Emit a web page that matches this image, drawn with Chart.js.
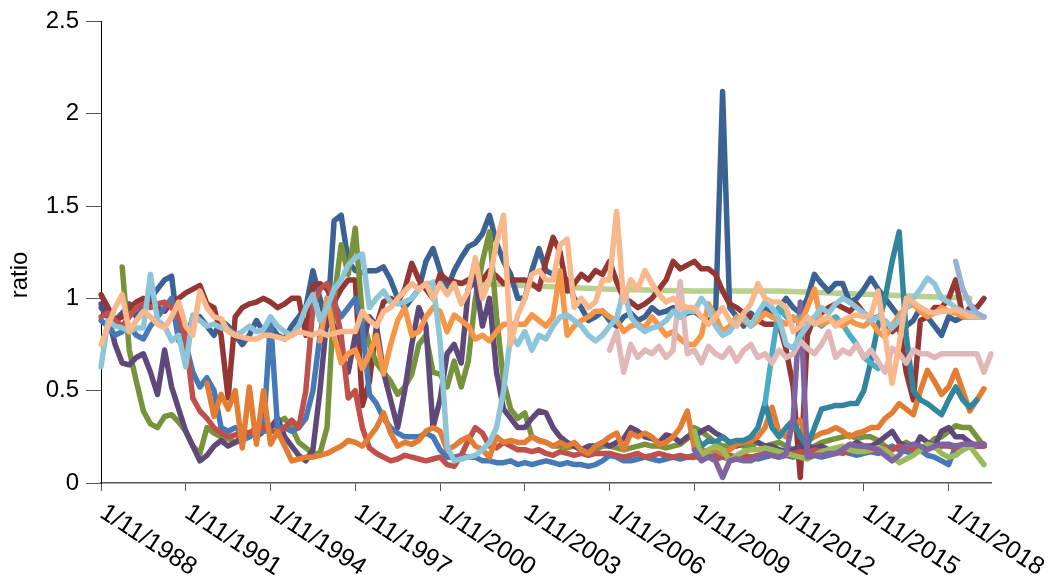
<!DOCTYPE html>
<html>
<head>
<meta charset="utf-8">
<script src="https://cdn.jsdelivr.net/npm/chart.js@4.4.1/dist/chart.umd.min.js"></script>
<style>
  html, body { margin: 0; padding: 0; background: #fff; }
  #wrap { width: 1051px; height: 584px; }
</style>
</head>
<body>
<div id="wrap"><canvas id="chart" width="1051" height="584"></canvas></div>
<script>
const n = null;

// quarterly categories, 1/11/1988 onwards
const categories = [];
for (let i = 0; i < 127; i++) {
  const m = 10 + 3 * i;
  const yr = 1988 + Math.floor(m / 12);
  const mo = (m % 12) + 1;
  categories.push('1/' + String(mo).padStart(2, '0') + '/' + yr);
}
const tickLabels = ['1/11/1988', '1/11/1991', '1/11/1994', '1/11/1997', '1/11/2000', '1/11/2003',
  '1/11/2006', '1/11/2009', '1/11/2012', '1/11/2015', '1/11/2018'];
const yTicks = [0, 0.5, 1, 1.5, 2, 2.5];

const navy = [0.95,0.9,0.88,0.92,0.97,0.9,0.95,1.0,1.05,1.1,1.12,0.8,
  0.75,0.9,0.9,0.85,0.8,0.88,0.85,0.8,0.75,0.8,0.88,0.82,
  0.85,0.8,0.78,0.85,0.9,0.95,1.15,1.0,0.85,1.42,1.45,1.2,
  1.15,1.14,1.15,1.15,1.17,1.1,1.0,0.95,1.0,1.05,1.2,1.27,
  1.15,1.05,1.15,1.22,1.28,1.3,1.35,1.45,1.3,1.2,1.13,1.0,
  1.0,1.15,1.27,1.15,1.13,1.13,1.1,1.0,0.95,0.88,0.9,0.93,
  0.88,0.85,0.9,0.92,0.88,0.9,0.95,0.92,0.93,0.95,0.9,0.92,
  0.93,0.9,0.88,0.9,2.12,0.95,0.9,0.85,0.92,0.88,0.95,0.9,
  0.95,1.0,0.95,0.92,1.0,1.13,1.08,1.04,1.08,1.08,0.98,1.0,
  1.05,1.11,1.05,1.0,0.95,0.9,0.85,0.88,0.95,0.9,0.85,0.8,
  0.9,0.88,0.9,0.9,0.9,0.9,n];

const maroon = [1.02,0.95,0.88,0.9,0.95,0.98,1.0,0.97,0.95,0.93,0.98,1.0,
  1.03,1.05,1.07,0.97,0.95,0.8,0.46,0.9,0.95,0.97,0.98,1.0,
  0.98,0.95,0.97,1.0,1.0,0.8,1.07,1.08,1.05,0.98,1.05,1.1,
  1.1,0.42,0.55,0.85,0.98,1.0,0.98,1.05,1.19,1.1,1.05,1.0,
  1.13,1.1,1.09,1.08,1.1,1.12,1.1,1.15,1.12,1.08,1.1,1.1,
  1.1,1.08,1.05,1.2,1.33,1.25,1.04,1.08,1.13,1.1,1.15,1.13,
  1.2,1.09,1.0,0.98,0.95,0.97,1.0,1.05,1.1,1.2,1.16,1.18,
  1.2,1.16,1.16,1.13,1.04,0.97,0.95,0.92,0.9,0.88,0.86,0.86,
  0.86,0.72,0.52,0.03,0.8,0.9,0.92,0.95,0.97,0.95,0.93,0.97,
  0.92,0.89,0.9,0.85,0.82,0.85,0.6,0.45,0.88,0.9,0.95,0.95,
  1.0,1.1,0.9,0.95,0.95,1.0,n];

const olive = [n,n,n,1.17,0.72,0.55,0.39,0.32,0.3,0.36,0.37,0.33,
  0.28,0.2,0.16,0.3,0.27,0.25,0.24,0.22,0.23,0.25,0.28,0.28,
  0.3,0.33,0.35,0.3,0.22,0.19,0.16,0.16,0.3,1.0,1.29,1.13,
  1.38,0.9,0.75,0.65,0.6,0.55,0.48,0.52,0.59,0.75,0.8,0.6,
  0.59,0.52,0.66,0.52,0.66,1.0,1.2,1.36,0.9,0.55,0.4,0.35,
  0.38,0.25,0.23,0.22,0.2,0.2,0.19,0.2,0.18,0.17,0.18,0.2,
  0.2,0.19,0.18,0.19,0.2,0.21,0.2,0.2,0.19,0.2,0.21,0.24,
  0.3,0.28,0.25,0.22,0.2,0.2,0.21,0.2,0.2,0.22,0.2,0.21,
  0.22,0.2,0.18,0.15,0.18,0.2,0.22,0.23,0.24,0.25,0.26,0.24,
  0.25,0.25,0.23,0.2,0.18,0.2,0.22,0.2,0.18,0.2,0.24,0.25,
  0.28,0.31,0.3,0.3,0.25,0.2,n];

const purple = [0.97,0.9,0.75,0.65,0.64,0.68,0.7,0.6,0.48,0.72,0.52,0.4,
  0.28,0.2,0.12,0.15,0.2,0.23,0.2,0.22,0.25,0.27,0.25,0.28,
  0.3,0.35,0.25,0.2,0.15,0.12,0.18,0.5,0.9,0.85,0.7,0.6,
  0.8,0.75,0.9,0.85,0.6,0.45,0.3,0.5,0.75,0.95,0.85,0.3,
  0.45,0.7,0.75,0.65,1.05,1.1,0.85,1.0,0.6,0.4,0.35,0.3,
  0.3,0.35,0.39,0.38,0.3,0.25,0.22,0.2,0.18,0.2,0.2,0.22,
  0.2,0.22,0.24,0.3,0.28,0.25,0.24,0.22,0.26,0.25,0.22,0.25,
  0.25,0.28,0.3,0.27,0.25,0.22,0.2,0.22,0.25,0.22,0.2,0.2,
  0.18,0.17,0.18,0.2,0.2,0.19,0.2,0.18,0.17,0.18,0.2,0.22,
  0.2,0.2,0.22,0.25,0.28,0.22,0.2,0.18,0.25,0.22,0.2,0.28,
  0.3,0.25,0.25,0.22,0.2,0.21,n];

const teal = [n,n,n,n,n,n,n,n,n,n,n,n, n,n,n,n,n,n,n,n,n,n,n,n,
  n,n,n,n,n,n,n,n,n,n,n,n, n,n,n,n,n,n,n,n,n,n,n,n,
  n,n,n,n,n,n,n,n,n,n,n,n, n,n,n,n,n,n,n,n,n,n,n,n,
  n,n,n,n,n,n,n,n,n,n,n,n,
  0.28,0.2,0.23,0.22,0.25,0.22,0.23,0.23,0.25,0.3,0.43,0.3,
  0.25,0.3,0.34,0.25,0.2,0.3,0.4,0.41,0.42,0.42,0.43,0.43,
  0.5,0.66,0.85,1.0,1.2,1.36,0.8,0.5,0.45,0.43,0.4,0.37,
  0.45,0.52,0.45,0.41,0.45,n,n];

const cyan = [n,n,n,n,n,n,n,n,n,n,n,n, n,n,n,n,n,n,n,n,n,n,n,n,
  n,n,n,n,n,n,n,n,n,n,n,n, n,n,n,n,n,n,n,n,n,n,n,n,
  n,n,n,n,n,n,n,n,n,n,n,n, n,n,n,n,n,n,n,n,n,n,n,n,
  n,n,n,n,n,n,n,n,n,n,n,n,
  n,n,n,n,n,n,n,n,n,n,0.43,0.7,
  0.95,0.9,0.88,0.9,0.87,0.88,0.85,0.88,0.9,0.86,0.8,0.75,
  0.68,0.65,0.62,n,n,n,n,n,n,n,n,n,
  n,n,n,n,n,n,n];

const orange = [n,n,n,n,n,n,n,n,n,n,n,n,
  n,n,n,0.54,0.36,0.48,0.4,0.5,0.19,0.52,0.21,0.5,
  0.21,0.28,0.2,0.12,0.13,0.14,0.14,0.15,0.16,0.18,0.2,0.23,
  0.22,0.2,0.25,0.3,0.38,0.27,0.2,0.22,0.21,0.23,0.28,0.3,
  0.28,0.18,0.2,0.23,0.25,0.2,0.18,0.14,0.25,0.22,0.23,0.22,
  0.22,0.25,0.23,0.22,0.2,0.22,0.2,0.22,0.18,0.16,0.2,0.22,
  0.25,0.27,0.18,0.27,0.25,0.27,0.25,0.21,0.22,0.25,0.3,0.39,
  0.19,0.18,0.17,0.18,0.16,0.18,0.21,0.22,0.23,0.25,0.3,0.41,
  0.27,0.25,0.3,0.34,0.23,0.25,0.27,0.28,0.3,0.28,0.25,0.27,
  0.28,0.3,0.3,0.35,0.38,0.43,0.4,0.37,0.5,0.61,0.55,0.48,
  0.52,0.61,0.5,0.39,0.45,0.51,n];

const blue = [0.88,0.85,0.8,0.82,0.85,0.8,0.78,0.85,0.9,0.95,1.0,0.77,
  0.75,0.6,0.52,0.57,0.5,0.3,0.28,0.3,0.28,0.25,0.28,0.28,
  0.88,0.3,0.3,0.28,0.3,0.35,0.5,0.8,1.0,0.97,0.9,0.95,
  1.0,0.85,0.48,0.43,0.35,0.3,0.27,0.25,0.25,0.25,0.27,0.25,
  0.18,0.14,0.14,0.15,0.14,0.14,0.12,0.12,0.11,0.11,0.12,0.1,
  0.11,0.1,0.11,0.12,0.11,0.1,0.11,0.1,0.1,0.09,0.1,0.12,
  0.15,0.14,0.12,0.12,0.13,0.14,0.13,0.12,0.13,0.14,0.13,0.14,
  0.15,0.13,0.14,0.15,0.14,0.13,0.14,0.15,0.14,0.13,0.14,0.15,
  0.14,0.15,0.14,0.15,0.16,0.15,0.14,0.15,0.16,0.17,0.16,0.15,
  0.16,0.17,0.16,0.18,0.2,0.18,0.17,0.16,0.18,0.15,0.14,0.12,
  0.1,0.2,0.18,0.2,0.2,0.2,n];

const red = [0.9,0.92,0.88,0.85,0.9,0.95,0.97,0.95,0.97,0.98,0.95,0.9,
  0.78,0.46,0.39,0.35,0.3,0.27,0.25,0.26,0.28,0.27,0.3,0.3,
  0.28,0.28,0.3,0.34,0.3,0.5,0.95,1.05,1.08,1.0,0.8,0.46,
  0.5,0.3,0.19,0.16,0.14,0.12,0.13,0.15,0.14,0.13,0.12,0.13,
  0.14,0.1,0.09,0.15,0.23,0.3,0.27,0.2,0.19,0.22,0.2,0.18,
  0.18,0.17,0.18,0.16,0.15,0.17,0.16,0.15,0.16,0.15,0.16,0.16,
  0.16,0.15,0.14,0.15,0.16,0.14,0.15,0.16,0.15,0.14,0.15,0.14,
  0.14,0.15,0.14,0.13,0.14,0.15,0.14,0.15,0.14,0.15,0.16,0.15,
  0.16,0.15,0.16,0.17,0.16,0.18,0.17,0.18,0.17,0.16,0.18,0.17,
  0.18,0.17,0.18,0.19,0.18,0.2,0.19,0.18,0.19,0.2,0.19,0.2,
  0.2,0.19,0.2,0.2,0.2,0.2,n];

const green = [n,n,n,n,n,n,n,n,n,n,n,n, n,n,n,n,n,n,n,n,n,n,n,n,
  n,n,n,n,n,n,n,n,n,n,n,n, n,n,n,n,n,n,n,n,n,n,n,n,
  n,n,n,n,n,n,n,n,n,n,n,n, n,n,n,n,n,n,n,n,n,n,n,n,
  n,n,n,n,n,n,n,n,n,n,n,n,
  0.28,0.14,0.18,0.2,0.18,0.12,0.15,0.17,0.18,0.18,0.19,0.18,
  0.17,0.16,0.15,0.14,0.13,0.15,0.17,0.18,0.19,0.2,0.18,0.17,
  0.17,0.18,0.19,0.18,0.15,0.11,0.13,0.15,0.18,0.21,0.2,0.16,
  0.14,0.15,0.18,0.2,0.15,0.1,n];

// nearly straight pale green line: readings at a few quarters only
const paleGreen = [];
for (let i = 0; i < 127; i++) paleGreen.push(n);
paleGreen[47] = 1.09; paleGreen[60] = 1.07; paleGreen[72] = 1.05; paleGreen[84] = 1.04;
paleGreen[96] = 1.04; paleGreen[110] = 1.02; paleGreen[123] = 1.0;

const lilac = [n,n,n,n,n,n,n,n,n,n,n,n, n,n,n,n,n,n,n,n,n,n,n,n,
  n,n,n,n,n,n,n,n,n,n,n,n, n,n,n,n,n,n,n,n,n,n,n,n,
  n,n,n,n,n,n,n,n,n,n,n,n, n,n,n,n,n,n,n,n,n,n,n,n,
  n,n,n,n,n,n,n,n,n,n,n,n,
  0.18,0.12,0.14,0.12,0.03,0.12,0.13,0.12,0.12,0.14,0.16,0.15,
  0.14,0.16,0.35,0.98,0.14,0.15,0.15,0.16,0.16,0.18,0.21,0.2,
  0.2,0.19,0.18,0.15,0.12,0.15,0.2,0.21,0.2,0.18,0.2,0.21,
  0.21,0.2,0.21,0.21,0.21,0.21,n];

const lightBlue = [0.63,0.88,0.85,0.84,0.82,0.84,0.84,1.13,0.88,0.85,0.77,0.8,
  0.63,0.91,0.88,0.85,0.86,0.84,0.83,0.8,0.82,0.85,0.82,0.83,
  0.9,0.85,0.82,0.8,0.85,0.95,1.02,0.88,0.95,1.05,1.1,1.18,
  1.22,1.24,0.95,1.0,1.04,0.98,0.97,0.98,1.0,1.05,1.08,1.08,
  0.77,0.2,0.12,0.13,0.14,0.15,0.18,0.22,0.3,0.5,0.8,0.75,
  0.82,0.72,0.8,0.78,0.85,0.9,0.91,0.88,0.85,0.8,0.77,0.8,
  0.85,0.89,1.05,0.9,0.85,0.82,0.84,0.85,0.88,0.93,0.9,0.93,
  0.93,1.0,0.95,0.85,0.8,0.82,0.88,0.9,0.85,0.92,0.98,0.95,
  0.89,0.75,0.73,0.8,0.85,0.9,0.95,0.92,0.97,1.0,0.98,0.95,
  0.92,0.88,0.9,0.88,0.84,0.88,0.95,1.0,1.05,1.11,1.08,1.0,
  0.98,0.95,0.93,0.92,0.9,0.9,n];

const peach = [0.75,0.85,0.95,1.02,0.82,0.88,0.93,0.9,0.86,0.84,0.9,0.98,
  0.85,0.8,1.04,0.95,0.9,0.89,0.82,0.8,0.79,0.78,0.78,0.8,
  0.8,0.79,0.78,0.8,0.82,0.81,0.8,0.82,0.8,0.81,0.82,0.82,
  0.82,0.93,0.88,0.85,0.93,0.95,1.0,1.04,1.08,1.05,1.08,1.0,
  1.08,1.02,1.08,0.97,1.04,1.22,1.0,1.1,1.3,1.45,0.75,0.91,
  1.0,1.13,1.15,1.1,1.1,1.29,1.32,0.95,1.0,0.95,0.98,1.1,
  1.1,1.47,0.98,1.1,1.05,1.15,1.08,1.02,0.98,1.0,0.97,0.95,
  0.95,0.9,0.86,0.9,0.95,0.88,0.85,0.92,0.97,1.08,1.0,0.98,
  0.98,0.95,0.82,0.85,0.9,0.86,0.88,0.9,0.85,0.88,0.9,0.91,
  0.9,0.91,1.04,0.8,0.54,0.75,1.0,0.98,0.95,0.93,0.92,0.93,
  0.93,0.94,0.92,0.9,0.9,0.9,n];

const brightOrange = [n,n,n,n,n,n,n,n,n,n,n,n, n,n,n,n,n,n,n,n,n,n,n,n,
  n,n,n,n,n,n,n,0.77,1.0,0.8,0.65,0.7,
  0.72,0.62,0.7,0.8,0.59,0.75,0.88,0.95,0.8,0.82,0.9,0.95,
  0.93,0.82,0.91,0.88,0.85,0.78,0.8,0.77,0.82,0.86,0.86,0.86,
  0.86,0.91,0.88,0.85,0.9,1.15,0.8,0.85,0.88,0.9,0.93,0.93,
  0.9,0.88,0.82,0.85,0.86,0.84,0.9,0.85,0.8,0.82,0.78,0.75,
  0.75,0.8,0.97,0.9,0.82,0.85,0.9,0.88,0.85,0.88,0.92,0.9,
  0.88,0.86,0.9,0.86,0.95,1.05,0.86,0.88,0.87,0.85,0.88,0.86,
  0.85,0.88,0.82,0.79,0.85,0.91,0.95,0.97,0.93,0.9,0.92,0.95,
  0.93,0.92,0.9,0.9,0.9,0.9,n];

const pink = [n,n,n,n,n,n,n,n,n,n,n,n, n,n,n,n,n,n,n,n,n,n,n,n,
  n,n,n,n,n,n,n,n,n,n,n,n, n,n,n,n,n,n,n,n,n,n,n,n,
  n,n,n,n,n,n,n,n,n,n,n,n, n,n,n,n,n,n,n,n,n,n,n,n,
  0.72,0.82,0.6,0.75,0.68,0.72,0.7,0.74,0.68,0.72,1.09,0.7,
  0.72,0.65,0.74,0.7,0.68,0.73,0.66,0.72,0.75,0.68,0.7,0.65,
  0.72,0.68,0.7,0.77,0.73,0.7,0.75,0.82,0.68,0.72,0.7,0.75,
  0.68,0.72,0.66,0.6,0.73,0.7,0.65,0.72,0.7,0.7,0.68,0.7,
  0.7,0.7,0.7,0.7,0.7,0.6,0.7];

const steelBlue = [];
for (let i = 0; i < 121; i++) steelBlue.push(n);
steelBlue.push(1.2, 1.05, 0.97, 0.92, 0.9, n);

// first in list is drawn on top
const series = [
  { data: steelBlue, color: '#95B3D7' },
  { data: peach, color: '#F8B88B' },
  { data: lightBlue, color: '#8EC5D8' },
  { data: pink, color: '#E0B8B7' },
  { data: brightOrange, color: '#F79646' },
  { data: cyan, color: '#4BACC6' },
  { data: lilac, color: '#8064A2' },
  { data: green, color: '#9BBB59' },
  { data: teal, color: '#31859C' },
  { data: orange, color: '#E37D33' },
  { data: red, color: '#C0504D' },
  { data: blue, color: '#4679B8' },
  { data: purple, color: '#5F497A' },
  { data: olive, color: '#77933C' },
  { data: maroon, color: '#943634' },
  { data: navy, color: '#3A6394' },
  { data: paleGreen, color: '#B9D08F', spanGaps: true },
];

const FONT = '"Liberation Sans", Arial, sans-serif';

const axisText = {
  id: 'axisText',
  afterDraw(chart) {
    const ctx = chart.ctx;
    const xs = chart.scales.x;
    ctx.save();
    ctx.font = '25px ' + FONT;
    ctx.fillStyle = '#000';
    ctx.textAlign = 'left';
    ctx.textBaseline = 'top';
    tickLabels.forEach((lab, j) => {
      const px = xs.getPixelForValue(j * 12);
      ctx.save();
      ctx.translate(px + 8, 500);
      ctx.rotate(33 * Math.PI / 180);
      ctx.fillText(lab, 0, 0);
      ctx.restore();
    });
    // y title
    ctx.font = '24px ' + FONT;
    ctx.save();
    ctx.translate(20, 275);
    ctx.rotate(-Math.PI / 2);
    ctx.textAlign = 'center';
    ctx.textBaseline = 'middle';
    ctx.fillText('ratio', 0, 0);
    ctx.restore();
    ctx.restore();
  }
};

new Chart(document.getElementById('chart').getContext('2d'), {
  type: 'line',
  data: {
    labels: categories,
    datasets: series.map(s => ({
      data: s.data,
      borderColor: s.color,
      backgroundColor: s.color,
      borderWidth: 5.5,
      pointRadius: 0,
      tension: 0,
      spanGaps: !!s.spanGaps,
      borderCapStyle: 'round',
      borderJoinStyle: 'round',
    })),
  },
  options: {
    responsive: false,
    animation: false,
    layout: { padding: { top: 18, right: 60, left: 0, bottom: 0 } },
    plugins: { legend: { display: false }, tooltip: { enabled: false } },
    scales: {
      x: {
        type: 'category',
        offset: false,
        afterFit(s) { s.height = 101; },
        grid: { drawOnChartArea: false, tickLength: 8, color: '#555', tickColor: '#555' },
        border: { display: true, color: '#555', width: 1.5 },
        ticks: {
          autoSkip: false, maxRotation: 0, minRotation: 0,
          color: 'rgba(0,0,0,0)', font: { size: 4 },
          callback: (v, i) => (i % 12 === 0 ? categories[i] : null),
        },
      },
      y: {
        min: 0, max: 2.5,
        afterFit(s) { s.width = 101; },
        afterBuildTicks(s) { s.ticks = yTicks.map(v => ({ value: v })); },
        grid: { drawOnChartArea: false, tickLength: 15, color: '#555', tickColor: '#555' },
        border: { display: true, color: '#000', width: 1 },
        ticks: { color: '#000', padding: 7, font: { family: FONT, size: 24 }, callback: v => String(v) },
      },
    },
  },
  plugins: [axisText],
});
</script>
</body>
</html>
